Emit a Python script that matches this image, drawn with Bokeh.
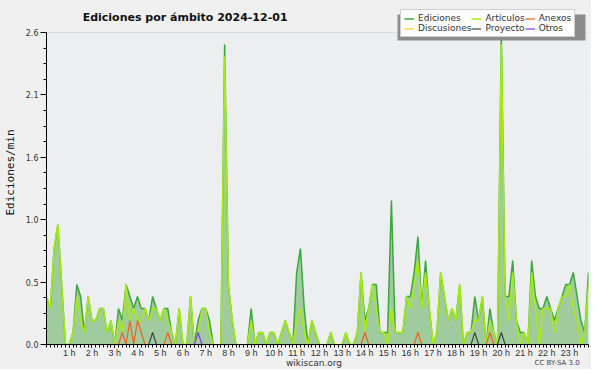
import math
from bokeh.plotting import figure
from bokeh.layouts import column
from bokeh.models import (Range1d, FixedTicker, PrintfTickFormatter, Label,
                          Legend, LegendItem, BoxAnnotation)
from bokeh.embed import file_html
from bokeh.resources import INLINE
from bokeh.core.properties import value

# ---------------- data (10-minute bins, edits per minute) ----------------
STEP_MIN = 10
TITLE = "Ediciones por ámbito  2024-12-01"
Y_TICKS = [0.0, 0.52, 1.04, 1.56, 2.08, 2.6]
X_TICK_HOURS = list(range(1, 24))
X_TICK_LABELS = [f"{h} h" for h in X_TICK_HOURS]

EDICIONES = [
    0.4, 0.3, 0.8, 1.0, 0.5, 0, 0, 0.1, 0.5, 0.4, 0.1, 0.4,
    0.2, 0.2, 0.3, 0.3, 0.1, 0.2, 0, 0.3, 0.2, 0.5, 0.4, 0.3,
    0.4, 0.3, 0.3, 0.2, 0.4, 0.3, 0.2, 0.3, 0.3, 0.1, 0, 0.3,
    0, 0, 0.4, 0, 0.2, 0.3, 0.3, 0.2, 0, 0, 0, 2.5,
    0.5, 0.2, 0, 0, 0, 0, 0.3, 0, 0.1, 0.1, 0, 0.1,
    0.1, 0, 0.1, 0.2, 0.1, 0, 0.6, 0.8, 0.3, 0, 0.2, 0.1,
    0, 0, 0, 0.1, 0, 0, 0, 0.1, 0, 0, 0.1, 0.6,
    0.2, 0.3, 0.5, 0.5, 0.1, 0.1, 0.1, 1.2, 0.1, 0.1, 0.1, 0.4,
    0.4, 0.6, 0.9, 0.3, 0.7, 0.3, 0, 0.1, 0.6, 0.4, 0.2, 0.3,
    0.2, 0.5, 0, 0.1, 0.1, 0.4, 0.2, 0.4, 0, 0.3, 0.1, 0,
    2.6, 0.4, 0.4, 0.7, 0.2, 0.1, 0.1, 0, 0.7, 0.4, 0.3, 0.3,
    0.4, 0.3, 0.2, 0.3, 0.4, 0.5, 0.5, 0.6, 0.4, 0.2, 0.1, 0.6,
]
ARTICULOS = [
    0.4, 0.3, 0.8, 1.0, 0.5, 0, 0, 0.1, 0.4, 0.2, 0.1, 0.4,
    0.2, 0.2, 0.3, 0.3, 0.1, 0.2, 0, 0.2, 0.1, 0.5, 0.2, 0.3,
    0.2, 0.2, 0.3, 0.2, 0.3, 0.3, 0.2, 0.3, 0.2, 0.1, 0, 0.3,
    0, 0, 0.4, 0, 0.1, 0.3, 0.3, 0.1, 0, 0, 0, 2.4,
    0.5, 0.2, 0, 0, 0, 0, 0.2, 0, 0.1, 0.1, 0, 0.1,
    0.1, 0, 0.1, 0.2, 0.1, 0, 0.2, 0.3, 0.1, 0, 0.2, 0.1,
    0, 0, 0, 0.1, 0, 0, 0, 0.1, 0, 0, 0.1, 0.6,
    0.1, 0.3, 0.5, 0.3, 0.1, 0.1, 0, 0.3, 0.1, 0.1, 0.1, 0.4,
    0.3, 0.5, 0.7, 0.3, 0.6, 0.3, 0, 0.1, 0.6, 0.4, 0.2, 0.3,
    0.2, 0.5, 0, 0.1, 0.1, 0.2, 0.2, 0.4, 0, 0.2, 0.1, 0,
    2.5, 0.4, 0.2, 0.6, 0.2, 0, 0.1, 0, 0.6, 0.3, 0, 0.3,
    0.3, 0.3, 0.1, 0.3, 0.4, 0.4, 0.5, 0.3, 0.2, 0, 0.1, 0.5,
]
ANEXOS = [
    0, 0, 0, 0, 0, 0, 0, 0, 0, 0, 0, 0,
    0, 0, 0, 0, 0, 0, 0, 0, 0.1, 0, 0.2, 0,
    0.2, 0.1, 0, 0, 0, 0, 0, 0, 0.1, 0, 0, 0,
    0, 0, 0, 0, 0, 0, 0, 0, 0, 0, 0, 0,
    0, 0, 0, 0, 0, 0, 0, 0, 0, 0, 0, 0,
    0, 0, 0, 0, 0, 0, 0, 0, 0, 0, 0, 0,
    0, 0, 0, 0, 0, 0, 0, 0, 0, 0, 0, 0,
    0.1, 0, 0, 0, 0, 0, 0, 0, 0, 0, 0, 0,
    0, 0, 0.1, 0, 0, 0, 0, 0, 0, 0, 0, 0,
    0, 0, 0, 0, 0, 0, 0, 0, 0, 0.1, 0, 0,
    0, 0, 0, 0, 0, 0, 0, 0, 0, 0, 0, 0,
    0, 0, 0, 0, 0, 0, 0, 0, 0, 0, 0, 0,
]
DISCUSIONES = [0] * 144
PROYECTO = [
    0, 0, 0, 0, 0, 0, 0, 0, 0, 0, 0, 0,
    0, 0, 0, 0, 0, 0, 0, 0, 0, 0, 0, 0,
    0, 0, 0, 0, 0.1, 0, 0, 0, 0, 0, 0, 0,
    0, 0, 0, 0, 0, 0, 0, 0, 0, 0, 0, 0,
    0, 0, 0, 0, 0, 0, 0, 0, 0, 0, 0, 0,
    0, 0, 0, 0, 0, 0, 0, 0, 0, 0, 0, 0,
    0, 0, 0, 0, 0, 0, 0, 0, 0, 0, 0, 0,
    0, 0, 0, 0, 0, 0, 0, 0, 0, 0, 0, 0,
    0, 0, 0, 0, 0, 0, 0, 0, 0, 0, 0, 0,
    0, 0, 0, 0, 0, 0.1, 0, 0, 0, 0, 0, 0,
    0.1, 0, 0, 0, 0, 0, 0, 0, 0, 0, 0, 0,
    0, 0, 0, 0, 0, 0, 0, 0, 0, 0, 0, 0,
]
OTROS = [
    0, 0, 0, 0, 0, 0, 0, 0, 0, 0, 0, 0,
    0, 0, 0, 0, 0, 0, 0, 0, 0, 0, 0, 0,
    0, 0, 0, 0, 0, 0, 0, 0, 0, 0, 0, 0,
    0, 0, 0, 0, 0.1, 0, 0, 0, 0, 0, 0, 0,
    0, 0, 0, 0, 0, 0, 0, 0, 0, 0, 0, 0,
    0, 0, 0, 0, 0, 0, 0, 0, 0, 0, 0, 0,
    0, 0, 0, 0, 0, 0, 0, 0, 0, 0, 0, 0,
    0, 0, 0, 0, 0, 0, 0, 0, 0, 0, 0, 0,
    0, 0, 0, 0, 0, 0, 0, 0, 0, 0, 0, 0,
    0, 0, 0, 0, 0, 0, 0, 0, 0, 0, 0, 0,
    0, 0, 0, 0, 0, 0, 0, 0, 0, 0, 0, 0,
    0, 0, 0, 0, 0, 0, 0, 0, 0, 0, 0, 0,
]

SERIES = [
    ("Ediciones", EDICIONES, "#3aa83a"),
    ("Artículos", ARTICULOS, "#a8ec10"),
    ("Anexos", ANEXOS, "#f0601a"),
    ("Discusiones", DISCUSIONES, "#ffcc22"),
    ("Proyecto", PROYECTO, "#444444"),
    ("Otros", OTROS, "#8a33ff"),
]
LEGEND_ORDER = ["Ediciones", "Artículos", "Anexos", "Discusiones", "Proyecto", "Otros"]

hours = [i * STEP_MIN / 60 for i in range(len(EDICIONES))]


def visible_line(vals):
    """Hide runs of zeros that lie on the baseline (keep the ends of peaks)."""
    out = []
    n = len(vals)
    for i, v in enumerate(vals):
        left = vals[i - 1] if i > 0 else 0
        right = vals[i + 1] if i < n - 1 else 0
        out.append(math.nan if (v == 0 and left == 0 and right == 0) else v)
    return out


# ---------------- layout geometry (pixels) ----------------
BORDER_L, BORDER_R, BORDER_B = 39, 3, 14
FRAME_W, FRAME_H = 542, 344
TOP_PAD = 32                       # pixels above the 2.6 line (title + legend)
H_FOOT = 13
FOOT_OVERLAP = 4
W = BORDER_L + FRAME_W + BORDER_R
ppu = (FRAME_H - TOP_PAD) / Y_TICKS[-1]
y_top = Y_TICKS[-1] + TOP_PAD / ppu
x_end = hours[-1]
ppx = FRAME_W / x_end


def dx(px):   # pixel column inside the figure -> hours
    return (px - BORDER_L) / ppx


def dy(py):   # pixel row inside the figure -> value
    return (FRAME_H - py) / ppu


BG = "#f0f0f0"
p = figure(frame_width=FRAME_W, frame_height=FRAME_H, output_backend="svg",
           toolbar_location=None,
           x_range=Range1d(0, x_end), y_range=Range1d(0, y_top),
           min_border_left=BORDER_L, min_border_right=BORDER_R, min_border_top=0,
           min_border_bottom=BORDER_B)
p.background_fill_color = BG
p.border_fill_color = BG
p.outline_line_color = None
p.xgrid.visible = False
p.ygrid.grid_line_color = "#c8c8c8"

# plot area background (only up to the top of the y scale)
p.add_layout(BoxAnnotation(bottom=0, top=Y_TICKS[-1], fill_color="#edeef0",
                           fill_alpha=1, line_color=None, level="underlay"))

# area under Ediciones
p.varea(x=hours, y1=[0] * len(EDICIONES), y2=EDICIONES, fill_color="#9fcb9f",
        fill_alpha=1.0)

renderers = {}
for name, vals, color in SERIES:
    lw = 1.5 if name in ("Ediciones", "Artículos") else 1.2
    renderers[name] = p.line(hours, visible_line(vals), line_color=color, line_width=lw)

# ---------------- axes ----------------
minor_y = []
for a, b in zip(Y_TICKS[:-1], Y_TICKS[1:]):
    for k in range(4):
        minor_y.append(a + (b - a) * k / 4)
minor_y.append(Y_TICKS[-1])
p.yaxis.ticker = FixedTicker(ticks=Y_TICKS, minor_ticks=minor_y)
p.yaxis.bounds = (0, Y_TICKS[-1])
p.yaxis.formatter = PrintfTickFormatter(format="%.1f")
p.yaxis.major_tick_out = 6
p.yaxis.major_tick_in = 0
p.yaxis.minor_tick_out = 3
p.yaxis.minor_tick_in = 0
p.yaxis.major_label_text_font = "DejaVu Sans"
p.yaxis.major_label_text_font_size = "8px"
p.yaxis.major_label_text_color = "#333333"
p.yaxis.major_label_standoff = 2
p.yaxis.axis_label = "Ediciones/min"
p.yaxis.axis_label_text_font = "DejaVu Sans Mono"
p.yaxis.axis_label_text_font_size = "11px"
p.yaxis.axis_label_text_font_style = "normal"
p.yaxis.axis_label_text_color = "#111111"
p.yaxis.axis_label_standoff = 6
p.yaxis.axis_line_color = "black"

p.xaxis.ticker = FixedTicker(ticks=X_TICK_HOURS, minor_ticks=hours)
p.xaxis.major_label_overrides = dict(zip(X_TICK_HOURS, X_TICK_LABELS))
p.xaxis.major_tick_out = 3
p.xaxis.major_tick_in = 0
p.xaxis.minor_tick_out = 3
p.xaxis.minor_tick_in = 0
p.xaxis.major_label_text_font = "Liberation Sans"
p.xaxis.major_label_text_font_size = "9px"
p.xaxis.major_label_text_color = "#333333"
p.xaxis.major_label_standoff = 0
p.xaxis.axis_label = None
p.xaxis.axis_label_standoff = 0
p.xaxis.axis_line_color = "black"

# ---------------- legend (with drop shadow) ----------------
LEG_W, LEG_TOP, LEG_BOT = 188, 11, 37
leg_left = BORDER_L + FRAME_W - LEG_W
p.add_layout(BoxAnnotation(left=dx(leg_left - 3), right=dx(leg_left + LEG_W - 3),
                           top=dy(LEG_TOP + 3), bottom=dy(LEG_BOT + 3),
                           fill_color="#8c8c8c", fill_alpha=1, line_color=None))

legend = Legend(items=[LegendItem(label=n, renderers=[renderers[n]]) for n in LEGEND_ORDER],
                location=(leg_left - BORDER_L, FRAME_H - LEG_BOT),
                orientation="horizontal", ncols=3,
                glyph_width=10, glyph_height=9, label_standoff=4, spacing=0,
                padding=3, margin=0, label_height=9,
                label_text_font="DejaVu Sans", label_text_font_size="9px",
                label_text_color="#333333",
                background_fill_color="#fdfdfd", background_fill_alpha=1,
                border_line_color="#a0a0a0")
p.add_layout(legend, "center")

# title
p.add_layout(Label(x=dx(179.5), y=dy(17), text=TITLE,
                   text_font="DejaVu Sans", text_font_style="bold",
                   text_font_size="11px", text_align="center",
                   text_baseline="middle", text_color="#111111"))

# ---------------- footer (transparent, tucked under the tick labels) ----------------
foot = figure(width=W, height=H_FOOT, output_backend="svg", toolbar_location=None,
              x_range=Range1d(0, W), y_range=Range1d(0, H_FOOT),
              min_border=0, x_axis_type=None, y_axis_type=None,
              margin=(-FOOT_OVERLAP, 0, 0, 0))
foot.background_fill_alpha = 0
foot.border_fill_alpha = 0
foot.outline_line_color = None
foot.grid.visible = False
foot.text(x=[292], y=[H_FOOT / 2], text=["wikiscan.org"], text_font=value("DejaVu Sans"),
          text_font_size="9px", text_align="center", text_baseline="middle",
          text_color="#333333")
foot.text(x=[582], y=[H_FOOT / 2], text=["CC BY-SA 3.0"], text_font=value("DejaVu Sans"),
          text_font_size="7px", text_align="right", text_baseline="middle",
          text_color="#444444")

layout = column(p, foot, spacing=0, styles={"background-color": BG})
open("out.html", "w").write(file_html(layout, INLINE))
